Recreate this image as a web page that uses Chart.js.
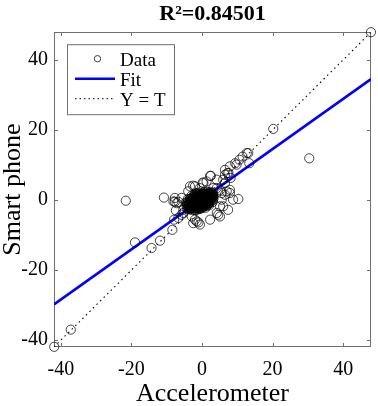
<!DOCTYPE html>
<html>
<head>
<meta charset="utf-8">
<script src="https://cdn.jsdelivr.net/npm/chart.js@4"></script>
<style>
  html, body { margin: 0; padding: 0; background: #ffffff; }
  canvas { display: block; }
</style>
</head>
<body>
<canvas id="c" width="378" height="406"></canvas>
<script>
// ---- data ----
const chartTitle = 'R\u00B2=0.84501';
const xLabel = 'Accelerometer';
const yLabel = 'Smart phone';
const legendLabels = ['Data', 'Fit', 'Y = T'];
const tickValues = [-40, -20, 0, 20, 40];
const axisMin = -41.95;
const axisMax = 47.9;

// Data: accelerometer (x) vs smart phone (y)
const accelerometer = [
  -41.9, -37.2, 47.9, 20.2, 30.4, -21.6, -19.0, -14.3, -11.9, -8.4,
  -7.9, -7.4, -7.7, -6.7, -10.8, 13.1, 11.5, 10.6, 13.4, 9.8,
  7.2, 8.1, 6.0, 12.7, 9.4, 7.9, 6.5, 7.5, 10.3, 7.9,
  7.0, 5.6, 6.0, 4.6, 4.2, 6.5, 4.2, 2.3, 0.4, 0.2,
  -2.5, -2.0, 7.9, 6.5, 8.8, 7.4, 5.1, 5.1, 2.3, -2.0,
  -1.0, -0.6, -2.5, -1.5, -2.9, -5.8, -5.3, -7.2, -8.1, -7.7,
  -5.8, -5.3, -6.7, -3.9, -0.6, 3.2, 5.1, 5.6, 1.3, 4.2,
  6.5, -3.4, 2.5,
  -0.5, 0.2, -1.2, 0.8, -2.0, 1.5, -0.9, 0.4, -1.6, 1.1,
  -2.6, 2.1, -0.3, 0.6, -1.9, 1.8, -3.1, 2.6, -0.7, 0.1,
  -2.3, 1.4, -3.5, 2.9, -1.4, 0.9, -2.8, 2.3, -0.1, -1.0,
  0.5, -1.7, 1.2, -2.4, 1.9, -3.8, 3.1, -0.4, 0.3, -2.1,
  1.6, -3.3, 2.7, -1.1, 0.7, -4.1, -0.6, 0.0, -1.3, 0.3,
  -0.8, -0.2, -1.5, 0.9, -2.2, 1.3, -0.3, -1.8, 0.6, -2.7,
  2.4, -1.0, 1.0, -3.0, 2.0, -0.5, 0.4, -2.5, 1.7, -3.6,
  2.8, -1.2, 0.2, -4.3, 3.0, -0.9, -0.1, -1.4, 0.5, -0.7,
  -2.0, 1.1, -1.6, 0.8, -2.9, 1.5, -0.2, -1.3, 0.1, -2.3,
  2.2, -0.6, 0.7, -3.2, 1.8, -1.9, -0.4, -1.1, 0.0, -1.7,
  1.0, -2.5, 1.4, -0.8, -0.5, -3.9, 2.5, -1.5, 0.3, -2.1,
  1.9, -3.4, 2.6, -0.9, 0.5, -2.6, 1.3, -1.2, -0.2, -4.0,
  3.2,
  -0.8, -1.4, -0.2, 0.6, -2.1, 1.2, -1.0, 0.0, -1.8, 0.9,
  -2.9, 2.0, -0.5, 0.5, -3.3, 2.5, -1.6, 1.5, -0.3, -2.4,
  -3.7, -4.4, -3.0, -2.2, -1.3, -0.1, 1.0, 2.0, 2.8, 2.2,
  1.3, 0.2, -0.8, -1.6, -2.6, -3.6, -4.2, -4.6, -4.0, -3.0,
  -1.9, -0.8, 0.6, 1.5, 2.4, 3.0, 3.3, 3.0, 2.0, 1.0,
  -0.6, -1.1, -0.3, -1.5, 0.2, -2.5, 0.9, -1.9, 1.7, -3.4,
  -1.2, -0.4, 0.7, -2.3, 1.6, -1.7, 0.3, -0.9, 1.0, -2.7,
  2.3, -0.1, -3.2, 1.2, -1.9, 0.4, -3.7, 2.7, -0.6, -2.0,
  -1.3, 0.1, -0.7, -1.6, 0.8, -2.4, 1.4, -0.2, -1.1, 0.5,
  -3.0, 2.1, -2.8, 1.8, -0.9, -4.0, 3.1, -1.4, 0.0, -2.2,
  -0.3, -1.0, 0.4, -1.8, 1.1, -2.6, 1.9, -0.5, -3.5, 2.5
];
const smartPhone = [
  -41.9, -37.0, 47.9, 20.3, 11.9, -0.2, -12.1, -13.7, -11.6, -8.5,
  -5.6, -3.0, -0.5, -0.5, 0.7, 13.4, 12.4, 11.5, 10.5, 10.1,
  7.7, 6.3, 5.8, 13.4, 10.5, 9.6, 8.6, 7.7, 0.3, 2.0,
  2.5, 2.0, -1.8, -4.2, -3.7, 4.8, 3.4, 6.9, 4.8, 5.0,
  4.1, 3.9, 2.9, 1.5, 0.1, -2.8, -1.8, -4.7, -5.6, -5.6,
  -6.4, -7.0, -6.6, -6.1, -4.7, -4.2, -2.8, -0.9, -0.4, 0.6,
  0.6, -3.7, -5.1, 2.5, 3.4, 3.4, 2.9, 0.1, 5.3, 5.8,
  7.2, 3.9, 6.9,
  -0.3, 0.1, -0.8, 0.5, -1.1, 0.9, 0.4, -0.6, 0.2, -0.2,
  -1.5, 1.3, 0.9, -1.2, -0.4, 0.2, -1.9, 1.6, -1.4, 1.2,
  0.6, -0.9, -0.8, 0.7, 1.0, -1.6, -2.3, 1.9, -0.9, -0.1,
  0.8, -1.7, 1.4, -0.2, -0.5, -1.3, 1.1, 1.5, -1.9, 1.2,
  -1.4, -2.6, 2.0, -2.2, 1.8, -1.8, 0.0, -0.4, -0.5, 0.4,
  -0.7, 0.3, -1.2, 0.1, -1.8, 0.6, -1.1, 0.8, -0.1, -0.6,
  0.4, 1.3, -1.0, -1.2, 1.0, -1.7, 1.5, 0.9, -1.1, -2.1,
  1.4, -2.5, 2.0, -1.0, 0.0, -0.2, -0.2, -0.9, 0.2, 0.6,
  -0.7, 0.8, -1.5, -0.4, -1.7, 1.2, -1.4, 0.5, -0.8, -2.0,
  0.8, 1.1, -0.8, -0.5, 1.7, -2.4, -0.5, 0.0, 0.6, -0.6,
  0.3, -1.3, 0.0, -1.0, 0.7, -2.2, 1.2, -0.2, -1.3, -2.8,
  2.1, 0.3, -0.3, -1.9, 1.0, 0.1, -0.6, 1.7, -2.1, -0.4,
  1.5,
  0.2, -0.3, -0.7, 0.6, -1.4, 0.2, -1.3, 0.0, -1.0, 0.9,
  -0.9, 0.5, 1.3, -1.5, -1.5, 0.9, 0.6, -0.3, -2.4, -2.4,
  -0.6, -1.6, 0.6, 1.6, 2.0, 1.7, 1.6, 1.6, 0.3, -0.8,
  -1.7, -2.2, -2.6, -2.9, -2.9, -2.7, -2.4, -0.7, 0.3, 1.2,
  1.9, 2.1, 2.2, 2.3, 2.3, 1.9, 0.6, -0.6, -1.5, -2.2,
  -0.9, -0.6, 0.2, -1.9, 0.8, -0.9, -0.7, 0.3, 0.6, -1.0,
  0.3, -1.0, 0.0, -1.2, 1.0, 0.0, -0.3, -1.6, 1.1, -1.9,
  0.0, 1.0, -0.1, -1.2, -2.1, 1.7, -1.7, 1.0, -2.2, 0.9,
  -1.1, 0.3, -0.4, -0.8, 0.7, -0.5, 0.4, -1.6, 0.8, -1.0,
  -2.2, 1.8, 0.3, -0.9, 1.6, -1.3, 0.9, -2.3, -1.2, -0.1,
  -0.1, -0.9, 0.5, -1.4, -0.4, -1.1, 1.3, 0.5, -2.0, 0.5
];

// Fit line end points and identity line end points
const fitX = [-41.95, 47.9];
const fitY = [-29.8, 34.5];
const identX = [-41.95, 47.9];
const identY = [-41.95, 47.9];

// ---- chart ----
const FONT = "'Liberation Serif', 'Times New Roman', serif";

const toPts = (xs, ys) => xs.map((x, i) => ({ x: x, y: ys[i] }));

const boxPlugin = {
  id: 'boxTicks',
  beforeDatasetsDraw(chart) {
    const { ctx, chartArea: a, scales } = chart;
    ctx.save();
    ctx.strokeStyle = '#707070';
    ctx.lineWidth = 1;
    const L = Math.round(a.left) + 0.5, R = Math.round(a.right) - 0.5;
    const T = Math.round(a.top) + 0.5, B = Math.round(a.bottom) - 0.5;
    ctx.strokeRect(L, T, R - L, B - T);
    const tl = 3.5;
    ctx.beginPath();
    tickValues.forEach(v => {
      const px = Math.round(scales.x.getPixelForValue(v)) + 0.5;
      ctx.moveTo(px, B); ctx.lineTo(px, B - tl);
      ctx.moveTo(px, T); ctx.lineTo(px, T + tl);
      const py = Math.round(scales.y.getPixelForValue(v)) + 0.5;
      ctx.moveTo(L, py); ctx.lineTo(L + tl, py);
      ctx.moveTo(R, py); ctx.lineTo(R - tl, py);
    });
    ctx.stroke();
    ctx.restore();
  }
};

const legendPlugin = {
  id: 'innerLegend',
  afterDraw(chart) {
    const { ctx, chartArea: a } = chart;
    const x0 = a.left + 13.5, y0 = a.top + 12.5, w = 107, h = 70;
    ctx.save();
    ctx.fillStyle = '#ffffff';
    ctx.fillRect(x0, y0, w, h);
    ctx.strokeStyle = '#707070';
    ctx.lineWidth = 1;
    ctx.strokeRect(x0, y0, w, h);
    ctx.font = '19px ' + FONT;
    ctx.fillStyle = '#000';
    ctx.textBaseline = 'middle';
    ctx.textAlign = 'left';
    const tx = x0 + 52.5;
    const rows = [y0 + 15, y0 + 35, y0 + 55];
    // Data marker
    ctx.beginPath();
    ctx.arc(x0 + 30, rows[0] - 1, 3.2, 0, Math.PI * 2);
    ctx.strokeStyle = '#404040';
    ctx.stroke();
    // Fit line
    ctx.beginPath();
    ctx.strokeStyle = '#0000ff';
    ctx.lineWidth = 2.5;
    ctx.moveTo(x0 + 7.5, rows[1] - 1);
    ctx.lineTo(x0 + 47.5, rows[1] - 1);
    ctx.stroke();
    // Y = T line
    ctx.beginPath();
    ctx.strokeStyle = '#000';
    ctx.lineWidth = 1;
    ctx.setLineDash([1.5, 3]);
    ctx.moveTo(x0 + 7.5, rows[2] - 1);
    ctx.lineTo(x0 + 47.5, rows[2] - 1);
    ctx.stroke();
    ctx.setLineDash([]);
    legendLabels.forEach((t, i) => ctx.fillText(t, tx, rows[i] + 1));
    ctx.restore();
  }
};

new Chart(document.getElementById('c'), {
  type: 'scatter',
  data: {
    datasets: [
      {
        label: legendLabels[0],
        data: toPts(accelerometer, smartPhone),
        pointStyle: 'circle',
        pointRadius: 4.6,
        pointBorderWidth: 1,
        pointBorderColor: 'rgba(0,0,0,0.72)',
        pointBackgroundColor: 'rgba(0,0,0,0)',
        showLine: false,
        clip: false,
        order: 0
      },
      {
        label: legendLabels[1],
        data: toPts(fitX, fitY),
        showLine: true,
        borderColor: '#0000ff',
        borderWidth: 2.6,
        pointRadius: 0,
        order: 2
      },
      {
        label: legendLabels[2],
        data: toPts(identX, identY),
        showLine: true,
        borderColor: '#000000',
        borderWidth: 1.1,
        borderDash: [1.5, 3.5],
        pointRadius: 0,
        order: 1
      }
    ]
  },
  options: {
    responsive: false,
    animation: false,
    devicePixelRatio: 1,
    events: [],
    layout: { padding: { left: 0, right: 7, top: 0, bottom: 0 } },
    plugins: {
      legend: { display: false },
      tooltip: { enabled: false },
      title: {
        display: true,
        text: chartTitle,
        fullSize: false,
        color: '#000',
        font: { family: FONT, size: 22, weight: 'bold', lineHeight: 1.1 },
        padding: { top: 2, bottom: 6 }
      }
    },
    scales: {
      x: {
        type: 'linear',
        min: axisMin,
        max: axisMax,
        afterBuildTicks: s => { s.ticks = tickValues.map(v => ({ value: v })); },
        afterFit: s => { s.height = 59; },
        grid: { display: false, drawTicks: false },
        border: { display: false },
        ticks: { color: '#000', font: { family: FONT, size: 20 }, padding: 11, maxRotation: 0, autoSkip: false },
        title: { display: true, text: xLabel, color: '#000', font: { family: FONT, size: 26, lineHeight: 1 }, padding: { top: 0, bottom: -1 } }
      },
      y: {
        type: 'linear',
        min: axisMin,
        max: axisMax,
        afterBuildTicks: s => { s.ticks = tickValues.map(v => ({ value: v })); },
        afterFit: s => { s.width = 54; },
        grid: { display: false, drawTicks: false },
        border: { display: false },
        ticks: { color: '#000', font: { family: FONT, size: 20 }, padding: 6, autoSkip: false },
        title: { display: true, text: yLabel, color: '#000', font: { family: FONT, size: 26, lineHeight: 1 }, padding: { top: 0, bottom: 0 } }
      }
    }
  },
  plugins: [boxPlugin, legendPlugin]
});
</script>
</body>
</html>
